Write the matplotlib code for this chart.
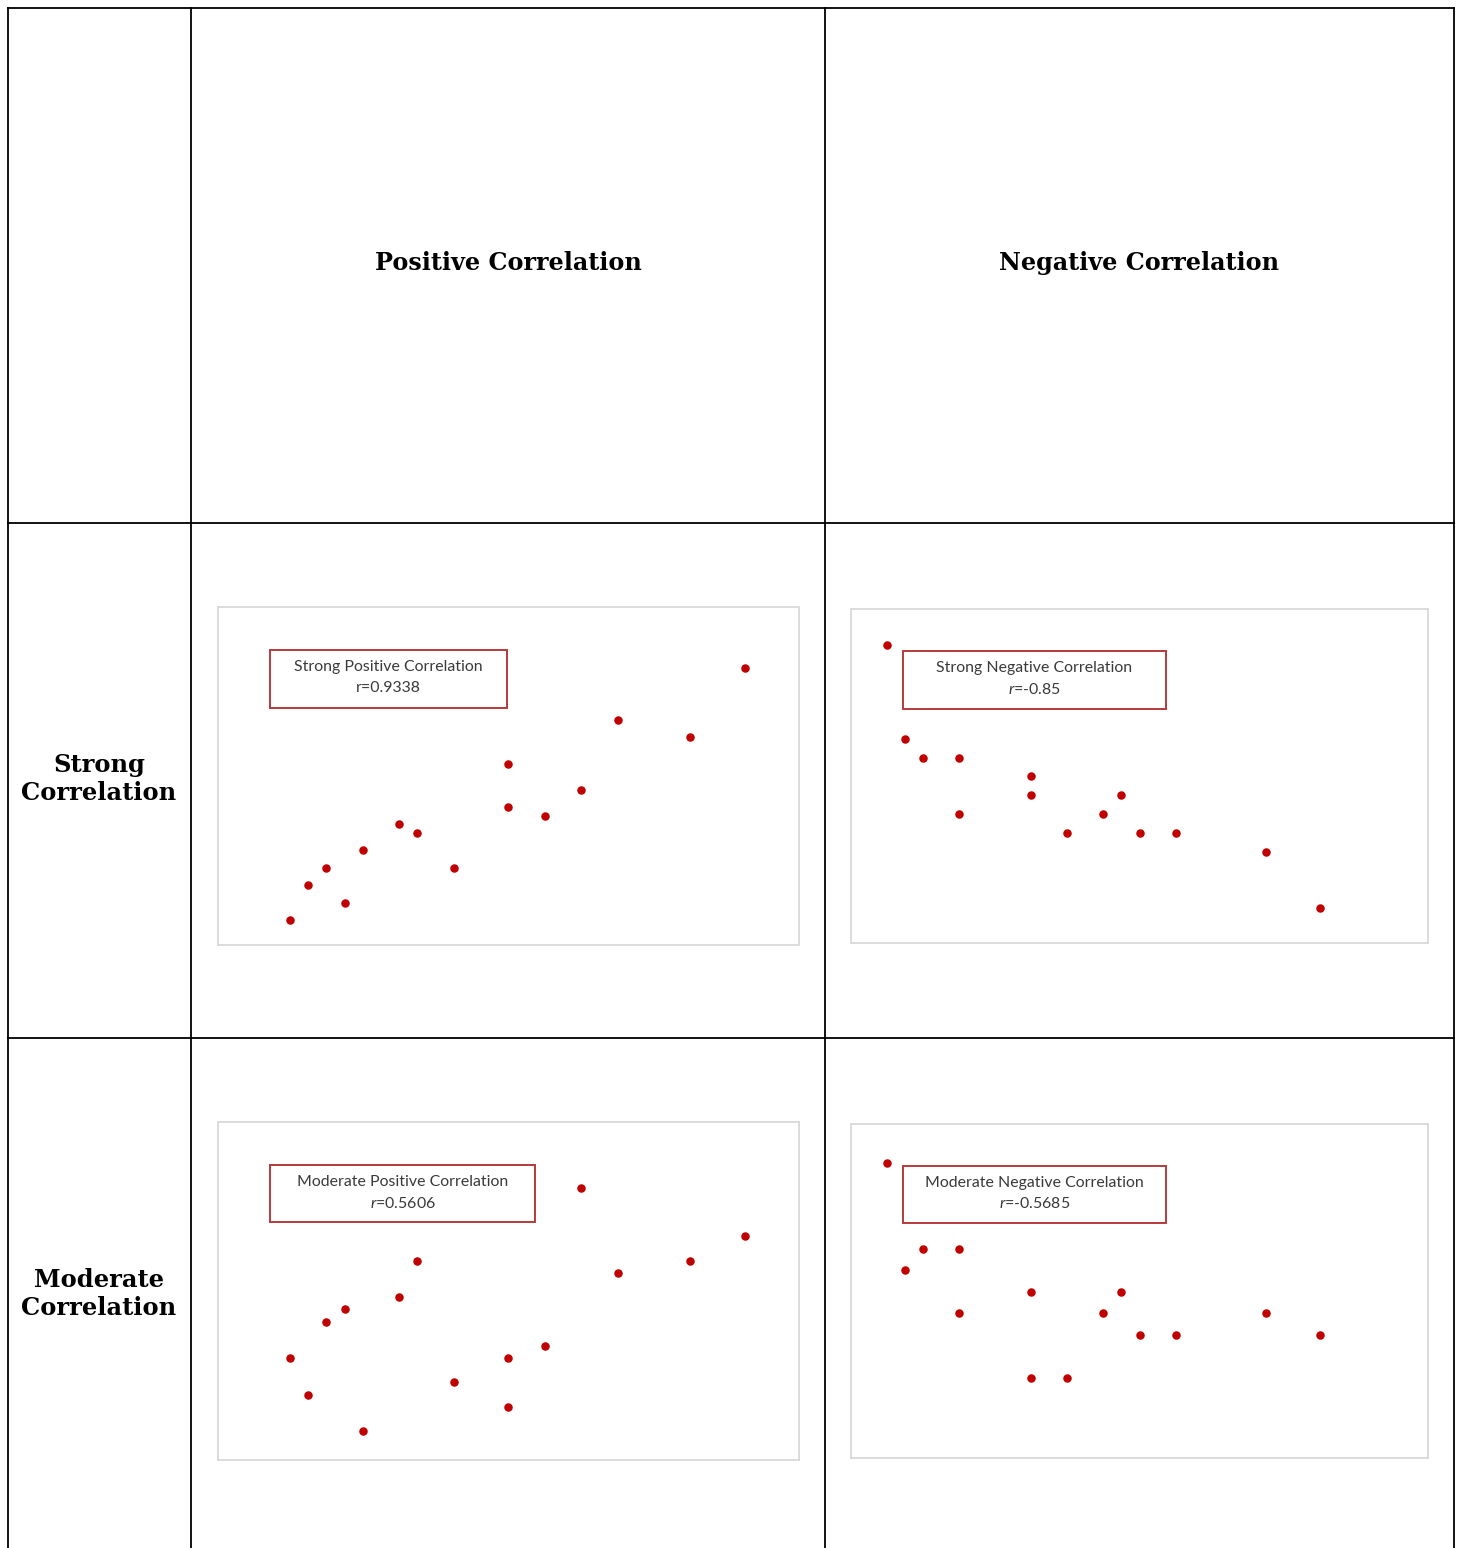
import matplotlib.pyplot as plt
from matplotlib.lines import Line2D
from matplotlib.patches import Rectangle

plt.rcParams['mathtext.fontset'] = 'custom'
plt.rcParams['mathtext.it'] = 'Lato:italic'
plt.rcParams['mathtext.rm'] = 'Lato'

W, H = 1457, 1548

# table headings
col_titles = ["Positive Correlation", "Negative Correlation"]
row_titles = ["Strong\nCorrelation", "Moderate\nCorrelation"]

# strong positive
sp_x = [0, 1, 2, 3, 4, 6, 7, 9, 12, 12, 14, 16, 18, 22, 25]
sp_y = [0, 4, 6, 2, 8, 11, 10, 6, 13, 18, 12, 15, 23, 21, 29]
# moderate positive
mp_x = [0, 1, 2, 3, 4, 6, 7, 9, 12, 12, 14, 16, 18, 22, 25]
mp_y = [6, 3, 9, 10, 0, 11, 14, 4, 6, 2, 7, 20, 13, 14, 16]
# strong negative
sn_x = [0, 1, 2, 4, 4, 8, 8, 10, 12, 13, 14, 16, 21, 24]
sn_y = [14, 9, 8, 8, 5, 7, 6, 4, 5, 6, 4, 4, 3, 0]
# moderate negative
mn_x = [0, 1, 2, 4, 4, 8, 8, 10, 12, 13, 14, 16, 21, 24]
mn_y = [10, 5, 6, 6, 3, 4, 0, 0, 3, 4, 2, 2, 3, 2]

box_labels = ["Strong Positive Correlation", "Strong Negative Correlation",
              "Moderate Positive Correlation", "Moderate Negative Correlation"]
r_labels = ["r=0.9338", "$r$=-0.85", "$r$=0.5606", "$r$=-0.5685"]


def fx(px):
    return px / W


def fy(py):
    return 1 - py / H


fig = plt.figure(figsize=(W / 100, H / 100), dpi=100)

# table grid
for x in [8, 191, 825, 1454]:
    fig.add_artist(Line2D([fx(x), fx(x)], [fy(8), 0], color='black', lw=1.3))
for y in [8, 523, 1038]:
    fig.add_artist(Line2D([fx(8), fx(1454)], [fy(y), fy(y)], color='black', lw=1.3))

serif = dict(family='DejaVu Serif', fontweight='bold')
fig.text(fx(508), fy(263), col_titles[0], ha='center', va='center', fontsize=17.2, **serif)
fig.text(fx(1139), fy(263), col_titles[1], ha='center', va='center', fontsize=17.2, **serif)
fig.text(fx(99), fy(779), row_titles[0], ha='center', va='center', linespacing=1.25,
         fontsize=17.4, **serif)
fig.text(fx(99), fy(1294), row_titles[1], ha='center', va='center', linespacing=1.25,
         fontsize=17.4, **serif)

# panels: (x, y, axes box px, xlim, ylim, annotation box px)
panels = [
    (sp_x, sp_y, (218, 607, 799, 945), (-3.96, 27.97), (-2.87, 36.0), (270, 650, 507, 708)),
    (sn_x, sn_y, (851, 609, 1428, 943), (-2.0, 30.0), (-1.86, 15.9), (903, 651, 1166, 709)),
    (mp_x, mp_y, (218, 1122, 799, 1460), (-3.96, 27.97), (-2.38, 25.4), (270, 1165, 535, 1222)),
    (mn_x, mn_y, (851, 1124, 1428, 1458), (-2.0, 30.0), (-3.73, 11.8), (903, 1166, 1166, 1223)),
]

for i, (xs, ys, bx, xl, yl, ab) in enumerate(panels):
    x0, y0, x1, y1 = bx
    ax = fig.add_axes([fx(x0), fy(y1), (x1 - x0) / W, (y1 - y0) / H])
    ax.scatter(xs, ys, s=26, color='#c00000', zorder=3)
    ax.set_xlim(xl)
    ax.set_ylim(yl)
    ax.set_xticks([])
    ax.set_yticks([])
    for sp in ax.spines.values():
        sp.set_color('#d9d9d9')
        sp.set_linewidth(1.3)

    a0, b0, a1, b1 = ab
    fig.add_artist(Rectangle((fx(a0), fy(b1)), (a1 - a0) / W, (b1 - b0) / H,
                             transform=fig.transFigure, facecolor='white',
                             edgecolor='#b8393b', lw=1.4, zorder=5))
    cx = (a0 + a1) / 2
    fig.text(fx(cx), fy(b0 + 17), box_labels[i], ha='center', va='center',
             family='Lato', fontsize=11.4, color='#3a3a3a', zorder=6)
    fig.text(fx(cx), fy(b0 + 38), r_labels[i], ha='center', va='center',
             family='Lato', fontsize=11.4, color='#3a3a3a', zorder=6)

plt.savefig('out.png', dpi=100)
